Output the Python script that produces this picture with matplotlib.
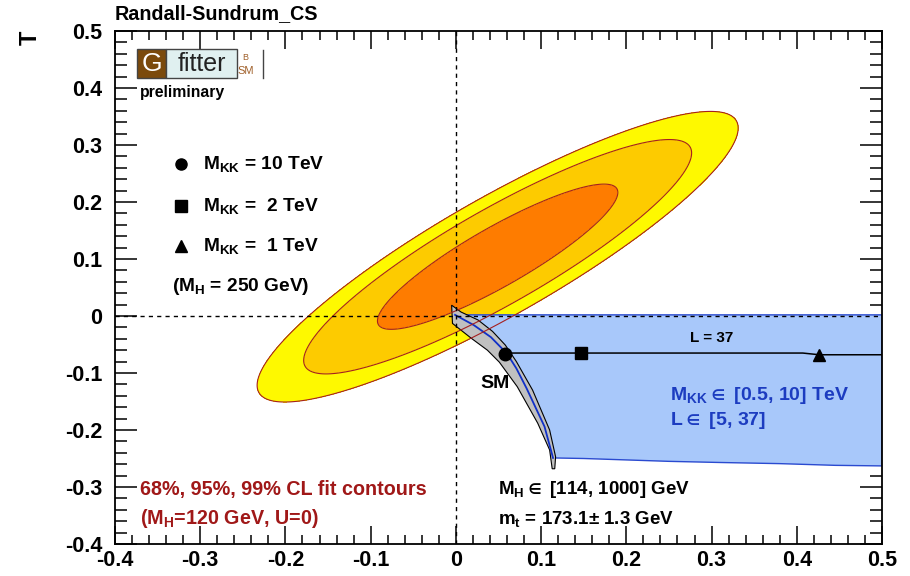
import numpy as np
import matplotlib
matplotlib.use('Agg')
import matplotlib.pyplot as plt
from matplotlib.ticker import MultipleLocator, FuncFormatter
from matplotlib.patches import Rectangle

plt.rcParams['font.family'] = ['Liberation Sans', 'DejaVu Sans']
plt.rcParams['font.weight'] = 'bold'
plt.rcParams['mathtext.fontset'] = 'custom'
plt.rcParams['mathtext.rm'] = 'Liberation Sans:bold'
plt.rcParams['mathtext.bf'] = 'Liberation Sans:bold'
plt.rcParams['mathtext.it'] = 'Liberation Sans:bold'
plt.rcParams['mathtext.sf'] = 'Liberation Sans:bold'
plt.rcParams['mathtext.default'] = 'bf'
plt.rcParams['mathtext.fallback'] = 'stixsans'

# ---------------- data ----------------
# S-T fit (Gaussian approximation of the 68/95/99% CL contours)
fit_center_S = 0.049
fit_center_T = 0.104
fit_sigma_S = 0.093
fit_sigma_T = 0.084
fit_rho = 0.885
cl_chi2 = [2.30, 5.99, 9.21]
cl_colors = ['#fe7c00', '#fdcb00', '#fef900']

# SM band (M_H in [114, 1000] GeV)
sm_upper_S = [-0.005, 0.006, 0.026, 0.043, 0.058, 0.071, 0.090, 0.110, 0.117, 0.116]
sm_upper_T = [0.019, 0.007, -0.007, -0.027, -0.051, -0.080, -0.130, -0.200, -0.247, -0.268]
sm_lower_S = [-0.005, -0.004, 0.018, 0.037, 0.051, 0.072, 0.096, 0.110, 0.113]
sm_lower_T = [0.019, -0.013, -0.039, -0.060, -0.081, -0.124, -0.188, -0.235, -0.268]
sm_center_S = [-0.001, 0.021, 0.041, 0.060, 0.071, 0.083, 0.104, 0.114]
sm_center_T = [0.002, -0.016, -0.037, -0.066, -0.092, -0.127, -0.194, -0.249]

# Randall-Sundrum region (M_KK in [0.5,10] TeV, L in [5,37])
rs_bottom_S = [0.114, 0.150, 0.210, 0.250, 0.310, 0.380, 0.445, 0.500]
rs_bottom_T = [-0.249, -0.250, -0.253, -0.255, -0.257, -0.259, -0.262, -0.263]
rs_top_T = 0.002

# L = 37 line
l37_S = [0.0575, 0.147, 0.407, 0.4265, 0.500]
l37_T = [-0.065, -0.065, -0.065, -0.068, -0.068]
mkk_points_S = [0.0575, 0.147, 0.4265]
mkk_points_T = [-0.066, -0.065, -0.068]
mkk_markers = ['o', 's', '^']
mkk_labels = ['M$_{KK}$ = 10 TeV', 'M$_{KK}$ =  2 TeV', 'M$_{KK}$ =  1 TeV']

x_range = (-0.4, 0.5)
y_range = (-0.4, 0.5)

# ---------------- figure ----------------
W, H = 910, 576
fig = plt.figure(figsize=(W / 100, H / 100), dpi=100)
ax = fig.add_axes([115 / W, 32 / H, 767 / W, 513 / H])


def fx(px):
    return px / W


def fy(py):
    return 1 - py / H


# contours
gs = np.linspace(x_range[0], x_range[1], 600)
gt = np.linspace(y_range[0], y_range[1], 600)
SS, TT = np.meshgrid(gs, gt)
u = (SS - fit_center_S) / fit_sigma_S
v = (TT - fit_center_T) / fit_sigma_T
chi2 = (u ** 2 - 2 * fit_rho * u * v + v ** 2) / (1 - fit_rho ** 2)
ax.contourf(SS, TT, chi2, levels=[0] + cl_chi2, colors=cl_colors, zorder=1)

# RS region
poly_S = list(sm_center_S) + rs_bottom_S[1:] + [rs_bottom_S[-1], sm_center_S[0]]
poly_T = list(sm_center_T) + rs_bottom_T[1:] + [rs_top_T, rs_top_T]
ax.fill(poly_S, poly_T, facecolor='#a8c8fa', edgecolor='#2a4ad0', lw=1.0, zorder=2)

# SM band
band_S = sm_upper_S + sm_lower_S[::-1]
band_T = sm_upper_T + sm_lower_T[::-1]
ax.fill(band_S, band_T, facecolor='#c0c0c0', edgecolor='black', lw=0.8, zorder=3)
ax.plot(sm_center_S, sm_center_T, color='#1030c8', lw=1.3, zorder=3.5)

# contour lines on top
ax.contour(SS, TT, chi2, levels=cl_chi2, colors='#a52020', linewidths=0.8, zorder=4)

# dashed axes
ax.axvline(0, color='black', lw=1.0, ls=(0, (3, 3)), zorder=5)
ax.axhline(0, color='black', lw=1.0, ls=(0, (3, 3)), zorder=5)

# L = 37 line and points
ax.plot(l37_S, l37_T, color='black', lw=1.1, zorder=6)
msizes = [9, 9, 8]
for s, t, m, ms in zip(mkk_points_S, mkk_points_T, mkk_markers, msizes):
    ax.plot([s], [t], marker=m, color='black', ms=ms, ls='none', zorder=7)

# legend-like labels
leg_T = [0.266, 0.193, 0.122]
leg_ms = [8, 9, 8]
for t, m, lab, ms in zip(leg_T, mkk_markers, mkk_labels, leg_ms):
    ax.plot([-0.322], [t], marker=m, color='black', ms=ms, ls='none', zorder=7)
    ax.text(-0.297, t, lab, fontsize=13.8, fontweight='bold', va='center', ha='left', zorder=8)
ax.text(-0.333, 0.051, '(M$_{H}$ = 250 GeV)', fontsize=13.8, fontweight='bold', va='center', ha='left')

ax.text(0.046, -0.118, 'SM', fontsize=14, fontweight='bold', ha='center', va='center', zorder=8)
ax.text(0.300, -0.038, 'L = 37', fontsize=11, fontweight='bold', ha='center', va='center', zorder=8)

blue = '#1c3cc0'
ax.text(0.251, -0.139, r'M$_{KK}\in$ [0.5, 10] TeV', color=blue, fontsize=14, fontweight='bold',
        ha='left', va='center', zorder=8)
ax.text(0.251, -0.184, r'L$\in$ [5, 37]', color=blue, fontsize=14, fontweight='bold',
        ha='left', va='center', zorder=8)

ax.text(0.049, -0.305, r'M$_{H}\in$ [114, 1000] GeV', fontsize=13.5, fontweight='bold',
        ha='left', va='center', zorder=8)
ax.text(0.049, -0.356, r'm$_{t}$ = 173.1$\pm$ 1.3 GeV', fontsize=13.5, fontweight='bold',
        ha='left', va='center', zorder=8)

red = '#a01818'
ax.text(-0.371, -0.305, '68%, 95%, 99% CL fit contours', color=red, fontsize=14.2,
        fontweight='bold', ha='left', va='center', zorder=8)
ax.text(-0.371, -0.356, '(M$_{H}$=120 GeV, U=0)', color=red, fontsize=14.2,
        fontweight='bold', ha='left', va='center', zorder=8)

# axes styling
ax.set_xlim(*x_range)
ax.set_ylim(*y_range)
ax.xaxis.set_major_locator(MultipleLocator(0.1))
ax.xaxis.set_minor_locator(MultipleLocator(0.02))
ax.yaxis.set_major_locator(MultipleLocator(0.1))
ax.yaxis.set_minor_locator(MultipleLocator(0.02))
fmt = FuncFormatter(lambda v, p: '0' if abs(v) < 1e-9 else ('%.1f' % v))
ax.xaxis.set_major_formatter(fmt)
ax.yaxis.set_major_formatter(fmt)
ax.tick_params(axis='both', which='both', direction='in', top=True, right=True, width=1.1)
ax.tick_params(axis='x', which='major', length=13, pad=4, labelsize=15.5)
ax.tick_params(axis='x', which='minor', length=6.5)
ax.tick_params(axis='y', which='major', length=16, pad=9, labelsize=15.5)
ax.tick_params(axis='y', which='minor', length=8.5)
for lab in ax.get_xticklabels() + ax.get_yticklabels():
    lab.set_fontweight('bold')
for sp in ax.spines.values():
    sp.set_linewidth(1.3)

# title and y label
fig.text(fx(115), fy(14), 'Randall-Sundrum_CS', fontsize=14.2, fontweight='bold', ha='left', va='center')
fig.text(fx(30), fy(38), 'T', fontsize=17, fontweight='bold', ha='center', va='center', rotation=90)

# Gfitter logo
fig.add_artist(Rectangle((fx(137), fy(78)), (166 - 137) / W, 29 / H, transform=fig.transFigure,
                         facecolor='#7b4a0c', edgecolor='#444444', lw=1))
fig.add_artist(Rectangle((fx(166), fy(78)), (237 - 166) / W, 29 / H, transform=fig.transFigure,
                         facecolor='#e0f0f0', edgecolor='#444444', lw=1))
fig.text(fx(151.5), fy(64), 'G', color='white', fontsize=19, fontweight='normal', ha='center', va='center')
fig.text(fx(201.5), fy(64), 'fitter', color='#222222', fontsize=18, fontweight='normal', ha='center', va='center')
fig.text(fx(245), fy(57), 'B', color='#a0602a', fontsize=6.5, fontweight='normal', ha='center', va='center')
fig.text(fx(246), fy(71), 'SM', color='#a0602a', fontsize=8, fontweight='normal', ha='center', va='center')
fig.add_artist(plt.Line2D([fx(263), fx(263)], [fy(50), fy(78)], transform=fig.transFigure,
                          color='#444444', lw=1))
fig.text(fx(140), fy(92), 'preliminary', fontsize=11.3, fontweight='bold', ha='left', va='center')

fig.savefig('out.png', dpi=100)
